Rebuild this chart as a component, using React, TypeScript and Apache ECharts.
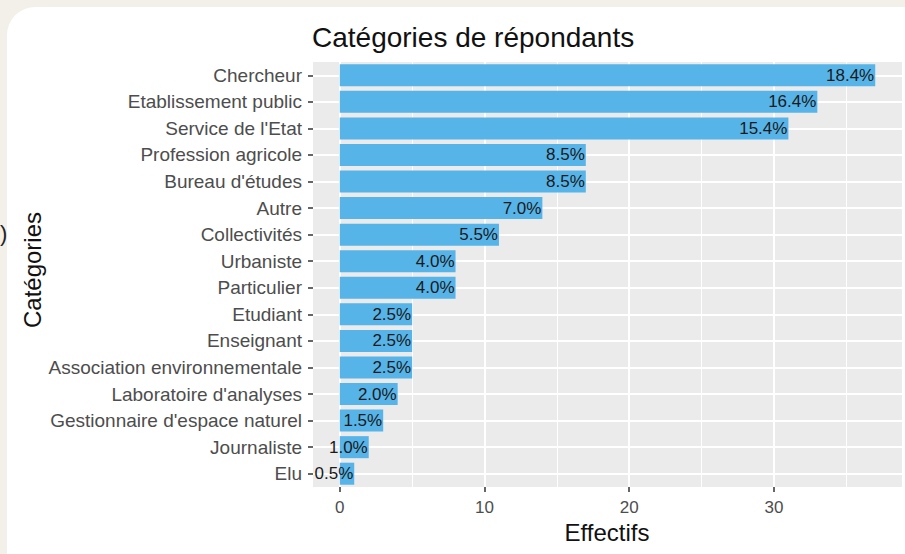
import React, { useEffect, useRef } from "react";
import * as echarts from "echarts";

const categories = [
  "Chercheur",
  "Etablissement public",
  "Service de l'Etat",
  "Profession agricole",
  "Bureau d'études",
  "Autre",
  "Collectivités",
  "Urbaniste",
  "Particulier",
  "Etudiant",
  "Enseignant",
  "Association environnementale",
  "Laboratoire d'analyses",
  "Gestionnaire d'espace naturel",
  "Journaliste",
  "Elu",
];
const counts = [37, 33, 31, 17, 17, 14, 11, 8, 8, 5, 5, 5, 4, 3, 2, 1];
const pctLabels = [
  "18.4%", "16.4%", "15.4%", "8.5%", "8.5%", "7.0%", "5.5%", "4.0%",
  "4.0%", "2.5%", "2.5%", "2.5%", "2.0%", "1.5%", "1.0%", "0.5%",
];
const xMajorTicks = [0, 10, 20, 30];
const xMinorTicks = [5, 15, 25, 35];

const FONT = '"Liberation Sans", Arial, Helvetica, sans-serif';

export default function App() {
  const ref = useRef<HTMLDivElement>(null);

  useEffect(() => {
    if (!ref.current) return;
    const chart = echarts.init(ref.current, null, { renderer: "svg" });

    const gridLines: any[] = [];
    xMinorTicks.forEach((v) =>
      gridLines.push({ xAxis: v, lineStyle: { color: "#FFFFFF", width: 1, type: "solid" } })
    );
    xMajorTicks.forEach((v) =>
      gridLines.push({ xAxis: v, lineStyle: { color: "#FFFFFF", width: 2, type: "solid" } })
    );
    categories.forEach((_, i) =>
      gridLines.push({ yAxis: i, lineStyle: { color: "#FFFFFF", width: 2, type: "solid" } })
    );

    chart.setOption({
      animation: false,
      textStyle: { fontFamily: FONT },
      grid: {
        left: 313,
        right: 3,
        top: 62,
        bottom: 67,
        show: true,
        backgroundColor: "#EBEBEB",
        borderWidth: 0,
      },
      xAxis: {
        type: "value",
        min: -1.85,
        max: 38.85,
        splitLine: { show: false },
        axisLine: { show: false, onZero: false },
        axisTick: {
          show: true,
          customValues: xMajorTicks,
          length: 5,
          lineStyle: { color: "#333333", width: 1.5 },
        },
        axisLabel: {
          customValues: xMajorTicks,
          color: "#4D4D4D",
          fontSize: 17,
          fontFamily: FONT,
          margin: 20,
          verticalAlign: "middle",
        },
      },
      yAxis: {
        type: "category",
        data: categories,
        inverse: true,
        axisLine: { show: true, onZero: false, lineStyle: { color: "rgba(0,0,0,0)", width: 0 } },
        axisTick: {
          show: true,
          alignWithLabel: true,
          interval: 0,
          length: 5,
          lineStyle: { color: "#333333", width: 1.5 },
        },
        axisLabel: {
          color: "#4D4D4D",
          fontSize: 19,
          fontFamily: FONT,
          margin: 11,
          interval: 0,
        },
        splitLine: { show: false },
      },
      graphic: [
        {
          type: "text",
          x: 312,
          y: 37,
          style: {
            text: "Catégories de répondants",
            fontSize: 28,
            fontFamily: FONT,
            fill: "#111111",
            align: "left",
            verticalAlign: "middle",
          },
        },
        {
          type: "text",
          x: 607,
          y: 532,
          style: {
            text: "Effectifs",
            fontSize: 24,
            fontFamily: FONT,
            fill: "#111111",
            align: "center",
            verticalAlign: "middle",
          },
        },
        {
          type: "text",
          x: 32,
          y: 270,
          rotation: Math.PI / 2,
          style: {
            text: "Catégories",
            fontSize: 24,
            fontFamily: FONT,
            fill: "#111111",
            align: "center",
            verticalAlign: "middle",
          },
        },
        {
          type: "text",
          x: 0,
          y: 233,
          style: {
            text: ")",
            fontSize: 22,
            fontFamily: FONT,
            fill: "#222222",
            align: "left",
            verticalAlign: "middle",
          },
        },
      ],
      series: [
        {
          type: "scatter",
          z: 1,
          silent: true,
          symbolSize: 0,
          data: counts.map((v, i) => [v, i]),
          markLine: {
            z: 1,
            silent: true,
            animation: false,
            symbol: ["none", "none"],
            label: { show: false },
            emphasis: { disabled: true },
            data: gridLines,
          },
        },
        {
          type: "bar",
          z: 3,
          data: counts,
          barWidth: "83%",
          itemStyle: { color: "#56B4E9" },
          label: {
            show: true,
            position: "insideRight",
            distance: 1,
            color: "#1A1A1A",
            fontSize: 17,
            fontFamily: FONT,
            formatter: (p: any) => pctLabels[p.dataIndex],
          },
        },
      ],
    });

    return () => chart.dispose();
  }, []);

  return (
    <div
      style={{
        position: "fixed",
        left: 0,
        top: 0,
        width: 905,
        height: 554,
        background: "#F3EFE9",
        overflow: "hidden",
      }}
    >
      <div
        style={{
          position: "absolute",
          left: 7,
          top: 7,
          width: 940,
          height: 600,
          background: "#FFFFFF",
          borderRadius: 28,
        }}
      />
      <div
        ref={ref}
        style={{ position: "absolute", left: 0, top: 0, width: 905, height: 554 }}
      />
    </div>
  );
}
